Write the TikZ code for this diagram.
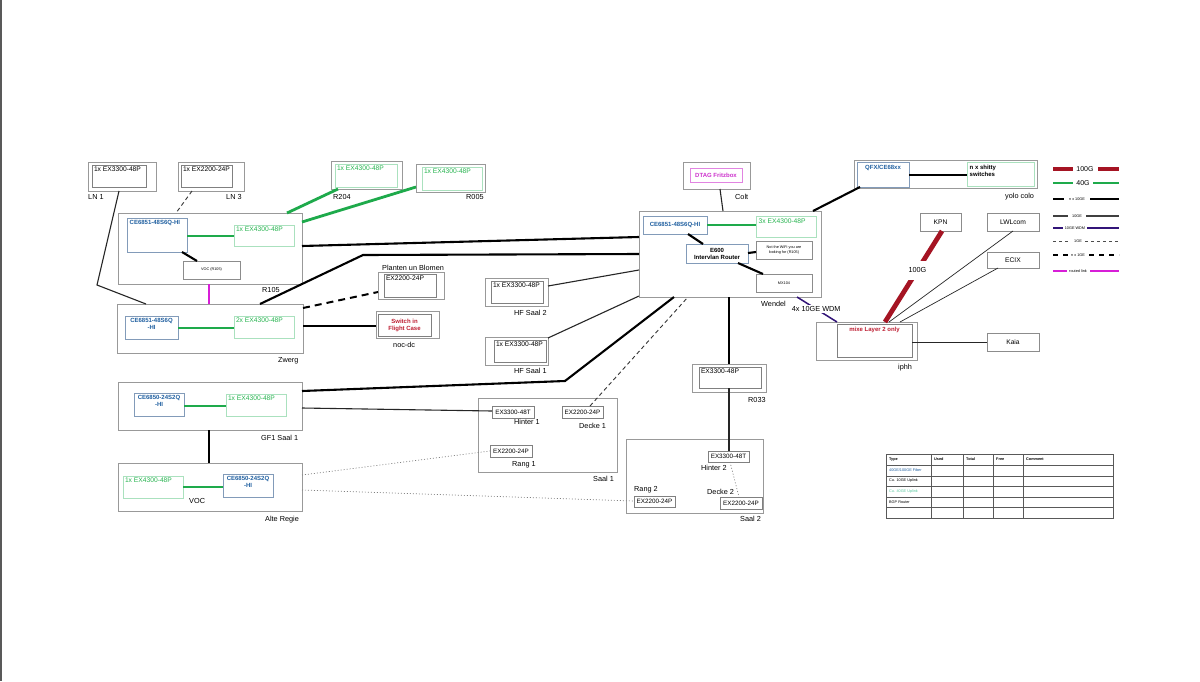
\documentclass[tikz,border=0pt]{standalone}
\usepackage{fontspec}
\setmainfont{Liberation Sans}
\usetikzlibrary{shadows}
\definecolor{tblue}{RGB}{31,95,160}
\definecolor{tgreen}{RGB}{40,180,80}
\definecolor{lgreen}{RGB}{30,170,75}
\definecolor{lred}{RGB}{165,20,35}
\definecolor{lmag}{RGB}{215,30,215}
\definecolor{lnavy}{RGB}{50,20,120}
\definecolor{tred}{RGB}{190,30,50}
\definecolor{tmag}{RGB}{205,50,205}
\definecolor{bgreen}{RGB}{170,225,190}
\definecolor{bce}{RGB}{130,155,185}
\definecolor{tteal}{RGB}{90,200,160}
\newcommand\fcap{\fontsize{7.3}{8.5}\selectfont}
\newcommand\fdev{\fontsize{6.7}{7.6}\selectfont}
\newcommand\fce{\fontsize{6}{7}\selectfont\bfseries}
\newcommand\ftiny{\fontsize{3.8}{4.6}\selectfont}
\newcommand\cbox[5]{\node[cont, anchor=north west, minimum width={#4-#2}, minimum height={#5-#3}] (#1) at (#2,#3) {};}
\newcommand\mybox[9]{%
  \node[#6, anchor=north west, minimum width={#4-#2}, minimum height={#5-#3}] (#1) at (#2,#3) {};
  \node[anchor=#7, inner sep=1.8pt, align=center, font=\fdev, #8] (#1-t) at (#1.#7) {#9};}
\tikzset{
  cont/.style={draw=black!40, line width=0.8pt, inner sep=0pt, outer sep=0pt},
  dev/.style={draw=black!50, line width=0.7pt, fill=white, inner sep=0pt, outer sep=0pt,
    drop shadow={shadow xshift=1pt, shadow yshift=-1.1pt, fill=black!60, opacity=1}},
  cebox/.style={draw=bce, line width=0.7pt, fill=white, inner sep=0pt, outer sep=0pt,
    drop shadow={shadow xshift=0.7pt, shadow yshift=-1pt, fill=bce!80!black, opacity=1}},
  gbox/.style={draw=bgreen, line width=0.7pt, fill=white, inner sep=0pt, outer sep=0pt},
  pbox/.style={draw=black!45, line width=0.7pt, fill=white, inner sep=0pt, outer sep=0pt},
  mbox/.style={draw=tmag!60, line width=0.7pt, fill=white, inner sep=0pt, outer sep=0pt},
  capt/.style={font=\fcap, anchor=north west, inner sep=0pt},
  g40/.style={draw=lgreen, line width=2.8pt},
  g100/.style={draw=lred, line width=4.8pt},
  nx10/.style={draw=black, line width=2.1pt},
  ge10/.style={draw=black!85, line width=1.1pt},
  thinb/.style={draw=black!85, line width=0.7pt},
  wdm/.style={draw=lnavy, line width=1.5pt},
  ge1/.style={draw=black!80, line width=0.9pt, dash pattern=on 4pt off 3pt},
  nx1/.style={draw=black, line width=2pt, dash pattern=on 7pt off 5pt},
  routed/.style={draw=lmag, line width=1.6pt},
  dotl/.style={draw=black!50, line width=0.7pt, dash pattern=on 1pt off 2pt},
  lbl/.style={fill=white, font=\fcap, inner sep=1.5pt},
  lgt/.style={font=\ftiny, inner sep=0pt},
  tbt/.style={font=\ftiny, anchor=west, inner sep=0pt},
}
\begin{document}
\begin{tikzpicture}[x=1pt,y=-1pt]
\useasboundingbox (0,0) rectangle (1200,681);
\fill[white] (0,0) rectangle (1200,681);
\fill[black!65] (0,0) rectangle (2,681);

% ---------- containers ----------
\cbox{ln1}{88}{162}{156}{191}
\cbox{ln3}{178}{162}{244}{191}
\cbox{r204}{331}{161}{402}{189}
\cbox{r005}{416}{164}{485}{192}
\cbox{r105}{118}{213}{302}{284}
\cbox{zwerg}{117}{304}{303}{353}
\cbox{planten}{378}{272}{444}{299}
\cbox{nocdc}{376}{311}{439}{338}
\cbox{hf2}{485}{278}{548}{306}
\cbox{hf1}{485}{337}{548}{365}
\cbox{wendel}{639}{211}{821}{297}
\cbox{colt}{683}{162}{750}{189}
\cbox{yolo}{854}{160}{1037}{188}
\cbox{iphh}{816}{322}{917}{360}
\cbox{r033}{692}{364}{766}{392}
\cbox{gf1}{118}{382}{302}{430}
\cbox{altr}{118}{463}{302}{511}
\cbox{saal1}{478}{398}{617}{472}
\cbox{saal2}{626}{439}{763}{513}

% ---------- devices ----------
\mybox{ln1d}{92}{165}{146}{187}{dev}{north west}{}{1x EX3300-48P}
\mybox{ln3d}{181}{165}{232}{187}{dev}{north west}{}{1x EX2200-24P}
\mybox{r204d}{335}{164}{397}{187}{gbox}{north west}{text=tgreen}{1x EX4300-48P}
\mybox{r005d}{422}{167}{482}{190}{gbox}{north west}{text=tgreen}{1x EX4300-48P}
\mybox{r105ce}{127}{218}{187}{252}{cebox}{north west}{font=\fce, text=tblue, inner sep=2.5pt}{CE6851-48S6Q-HI}
\mybox{r105ex}{234}{225}{294}{246}{gbox}{north west}{text=tgreen}{1x EX4300-48P}
\mybox{voc105}{183}{261}{240}{279}{pbox}{center}{font=\ftiny}{VOC (R105)}
\mybox{zwce}{125}{316}{178}{339}{cebox}{north}{font=\fce, text=tblue}{CE6851-48S6Q\\-HI}
\mybox{zwex}{234}{316}{294}{338}{gbox}{north west}{text=tgreen}{2x EX4300-48P}
\mybox{plantend}{384}{274}{436}{297}{dev}{north west}{}{EX2200-24P}
\mybox{nocdcd}{378}{314}{431}{336}{dev}{center}{font=\fce, text=tred}{Switch in\\Flight Case}
\mybox{hf2d}{491}{281}{543}{303}{dev}{north west}{}{1x EX3300-48P}
\mybox{hf1d}{494}{340}{546}{362}{dev}{north west}{}{1x EX3300-48P}
\mybox{wce}{643}{216}{707}{234}{cebox}{center}{font=\fce, text=tblue}{CE6851-48S6Q-HI}
\mybox{wex}{756}{216}{816}{237}{gbox}{north west}{text=tgreen, inner sep=2.5pt}{3x EX4300-48P}
\mybox{e600}{686}{244}{748}{263}{cebox}{center}{font=\fce}{E600\\Intervlan Router}
\mybox{wifi}{756}{241}{812}{259}{pbox}{center}{font=\ftiny}{Not the WiFi you are\\looking for (R105)}
\mybox{mx}{756}{274}{812}{292}{pbox}{center}{font=\ftiny}{MX104}
\mybox{coltd}{690}{168}{742}{182}{mbox}{center}{font=\fce, text=tmag}{DTAG Fritzbox}
\mybox{qfx}{857}{162}{909}{187}{cebox}{north}{font=\fce, text=tblue, inner sep=2.5pt}{QFX/CE68xx}
\mybox{shitty}{967}{162}{1034}{186}{gbox}{north west}{font=\fce, align=left, inner sep=2.5pt}{n x shitty\\switches}
\mybox{kpn}{920}{213}{961}{231}{pbox}{center}{}{KPN}
\mybox{lwl}{987}{213}{1039}{231}{pbox}{center}{}{LWLcom}
\mybox{ecix}{987}{252}{1039}{268}{pbox}{center}{}{ECIX}
\mybox{kaia}{987}{333}{1039}{351}{pbox}{center}{}{Kaia}
\mybox{mixe}{837}{324}{912}{357}{dev}{north}{font=\fce, text=tred, inner sep=3pt}{mixe Layer 2 only}
\mybox{r033d}{699}{367}{761}{388}{dev}{north west}{}{EX3300-48P}
\mybox{gfce}{134}{393}{184}{416}{cebox}{north}{font=\fce, text=tblue}{CE6850-24S2Q\\-HI}
\mybox{gfex}{226}{394}{286}{416}{gbox}{north west}{text=tgreen}{1x EX4300-48P}
\mybox{arex}{123}{476}{183}{498}{gbox}{north west}{text=tgreen}{1x EX4300-48P}
\mybox{arce}{223}{474}{273}{497}{cebox}{north}{font=\fce, text=tblue}{CE6850-24S2Q\\-HI}
\mybox{h1}{492}{406}{534}{418}{dev}{center}{font=\fontsize{6.3}{7}\selectfont}{EX3300-48T}
\mybox{d1}{562}{406}{603}{418}{dev}{center}{font=\fontsize{6.3}{7}\selectfont}{EX2200-24P}
\mybox{r1}{490}{445}{532}{457}{dev}{center}{font=\fontsize{6.3}{7}\selectfont}{EX2200-24P}
\mybox{h2}{708}{451}{749}{462}{dev}{center}{font=\fontsize{6.3}{7}\selectfont}{EX3300-48T}
\mybox{d2}{720}{497}{762}{509}{dev}{center}{font=\fontsize{6.3}{7}\selectfont}{EX2200-24P}
\mybox{r2}{634}{496}{675}{507}{dev}{center}{font=\fontsize{6.3}{7}\selectfont}{EX2200-24P}

% ---------- captions ----------
\node[capt] (cLN1) at (88,194) {LN 1};
\node[capt] (cLN3) at (226,194) {LN 3};
\node[capt] (cR204) at (333,194) {R204};
\node[capt] (cR005) at (466,194) {R005};
\node[capt] (cR105) at (262,287) {R105};
\node[capt] (cPlanten) at (382,265) {Planten un Blomen};
\node[capt] (cZwerg) at (278,357) {Zwerg};
\node[capt] (cNoc) at (393,342) {noc-dc};
\node[capt] (cHF2) at (514,310) {HF Saal 2};
\node[capt] (cHF1) at (514,368) {HF Saal 1};
\node[capt] (cWendel) at (761,301) {Wendel};
\node[capt] (cColt) at (735,194) {Colt};
\node[capt] (cYolo) at (1005,193) {yolo colo};
\node[capt] (cIphh) at (898,364) {iphh};
\node[capt] (cGF1) at (261,435) {GF1 Saal 1};
\node[capt] (cAltr) at (265,516) {Alte Regie};
\node[capt] (cVOC) at (189,498) {VOC};
\node[capt] (cH1) at (514,419) {Hinter 1};
\node[capt] (cD1) at (579,423) {Decke 1};
\node[capt] (cR1) at (512,461) {Rang 1};
\node[capt] (cS1) at (593,476) {Saal 1};
\node[capt] (cR033) at (748,397) {R033};
\node[capt] (cH2) at (701,465) {Hinter 2};
\node[capt] (cD2) at (707,489) {Decke 2};
\node[capt] (cR2) at (634,486) {Rang 2};
\node[capt] (cS2) at (740,516) {Saal 2};

% ---------- connectors ----------
\draw[ge10] (ln1.south -| 119,0) -- (97,285) -- (zwerg.north -| 146,0);
\draw[ge1] (ln3.south -| 192,0) -- (r105.north -| 176,0);
\draw[g40] (r105.north -| 287,0) -- (r204.south -| 338,0);
\draw[g40] (r105.east |- 0,222) -- (r005.west |- 0,187);
\draw[g40] (r105ce.east |- 0,236) -- (r105ex.west |- 0,236);
\draw[nx10] (r105ce.south -| 182,0) -- (voc105.north -| 197,0);
\draw[nx10] (r105.east |- 0,246) -- (wendel.west |- 0,237);
\draw[routed] (r105.south -| 209,0) -- (zwerg.north -| 209,0);
\draw[g40] (zwce.east |- 0,328) -- (zwex.west |- 0,328);
\draw[nx10] (zwerg.north -| 260,0) -- (363,255) -- (wendel.west |- 0,254);
\draw[nx1] (zwerg.east |- 0,308) -- (planten.west |- 0,292);
\draw[nx10] (zwerg.east |- 0,326) -- (nocdc.west |- 0,326);
\draw[ge10] (hf2.east |- 0,286) -- (wendel.west |- 0,270);
\draw[ge10] (hf1.east |- 0,338) -- (wendel.west |- 0,296);
\draw[nx10] (gf1.east |- 0,391) -- (565,381) -- (wendel.south -| 674,0);
\draw[ge10] (gf1.east |- 0,408) -- (h1.west |- 0,411);
\draw[ge1] (d1.north -| 590,0) -- (wendel.south -| 688,0);
\draw[nx10] (gf1.south -| 209,0) -- (altr.north -| 209,0);
\draw[g40] (gfce.east |- 0,406) -- (gfex.west |- 0,406);
\draw[g40] (arex.east |- 0,487) -- (arce.west |- 0,487);
\draw[dotl] (altr.east |- 0,475) -- (r1.west |- 0,451);
\draw[dotl] (altr.east |- 0,490) -- (r2.west |- 0,501);
\draw[nx10] (wendel.south -| 729,0) -- (r033.north -| 729,0);
\draw[ge10] (r033d.south -| 729,0) -- (h2.north -| 729,0);
\draw[dotl] (h2.south -| 730,0) -- (d2.north -| 739,0);
\draw[ge10] (colt.south -| 720,0) -- (wendel.north -| 723,0);
\draw[nx10] (wendel.north -| 813,0) -- (qfx.south -| 860,0);
\draw[nx10] (qfx.east |- 0,175) -- (shitty.west |- 0,175);
\draw[g40] (wce.east |- 0,225) -- (wex.west |- 0,225);
\draw[nx10] (wce.south -| 688,0) -- (e600.north -| 703,0);
\draw[nx10] (e600.east |- 0,253) -- (wifi.west |- 0,252);
\draw[nx10] (e600.south -| 738,0) -- (mx.north -| 763,0);
\draw[wdm] (wendel.south -| 797,0) -- node[lbl, pos=0.48] (lWDM) {4x 10GE WDM} (iphh.north -| 837,0);
\draw[g100] (kpn.south -| 942,0) -- node[lbl, pos=0.43, inner xsep=3pt, inner ysep=7pt] (l100) {100G} (iphh.north -| 885,0);
\draw[thinb] (lwl.south -| 1013,0) -- (iphh.north -| 889,0);
\draw[thinb] (ecix.south -| 998,0) -- (iphh.north -| 900,0);
\draw[thinb] (mixe.east |- 0,342) -- (kaia.west |- 0,342);

% ---------- legend ----------
\node[font=\fontsize{7}{8}\selectfont, inner sep=0pt] (lg1) at (1085,169) {100G};
\draw[lred, line width=4pt] (1053,169) -- (1073,169) (1098,169) -- (1119,169);
\node[font=\fontsize{7}{8}\selectfont, inner sep=0pt] (lg2) at (1083,183) {40G};
\draw[lgreen, line width=2.4pt] (1053,183) -- (1073,183) (1093,183) -- (1119,183);
\node[lgt] (lg3) at (1077,199) {n x 10GE};
\draw[black, line width=2pt] (1053,199) -- (1064,199) (1090,199) -- (1119,199);
\node[lgt] (lg4) at (1077,216) {10GE};
\draw[black!75, line width=1.1pt] (1053,216) -- (1068,216) (1086,216) -- (1119,216);
\node[lgt] (lg5) at (1075,228) {10GE WDM};
\draw[lnavy, line width=1.5pt] (1053,228) -- (1063,228) (1087,228) -- (1119,228);
\node[lgt] (lg6) at (1078,241) {1GE};
\draw[black!70, line width=1pt, dash pattern=on 3pt off 3pt] (1053,241) -- (1071,241) (1085,241) -- (1119,241);
\node[lgt] (lg7) at (1078,255) {n x 1GE};
\draw[black, line width=1.6pt, dash pattern=on 5pt off 5pt] (1053,255) -- (1068,255) (1089,255) -- (1119,255);
\node[lgt] (lg8) at (1078,271) {routed link};
\draw[lmag, line width=1.2pt] (1053,271) -- (1067,271) (1090,271) -- (1119,271);

% ---------- table ----------
\draw[black!65, line width=0.8pt] (886,454) rectangle (1113,518);
\foreach \yy in {465,476,486,497,507} \draw[black!65, line width=0.8pt] (886,\yy) -- (1113,\yy);
\foreach \xx in {931,963,993,1023} \draw[black!65, line width=0.8pt] (\xx,454) -- (\xx,518);
\node[tbt, font=\ftiny\bfseries] (tTy) at (889,459.5) {Type};
\node[tbt, font=\ftiny\bfseries] (tUs) at (934,459.5) {Used};
\node[tbt, font=\ftiny\bfseries] (tTo) at (966,459.5) {Total};
\node[tbt, font=\ftiny\bfseries] (tFr) at (996,459.5) {Free};
\node[tbt, font=\ftiny\bfseries] (tCo) at (1026,459.5) {Comment};
\node[tbt, text=tblue] (tR1) at (889,470.5) {40GE/100GE Fiber};
\node[tbt] (tR2) at (889,481) {Cu. 10GE Uplink};
\node[tbt, text=tteal] (tR3) at (889,491.5) {Cu. 40GE Uplink};
\node[tbt] (tR4) at (889,502) {BGP Router};
\end{tikzpicture}
\end{document}
